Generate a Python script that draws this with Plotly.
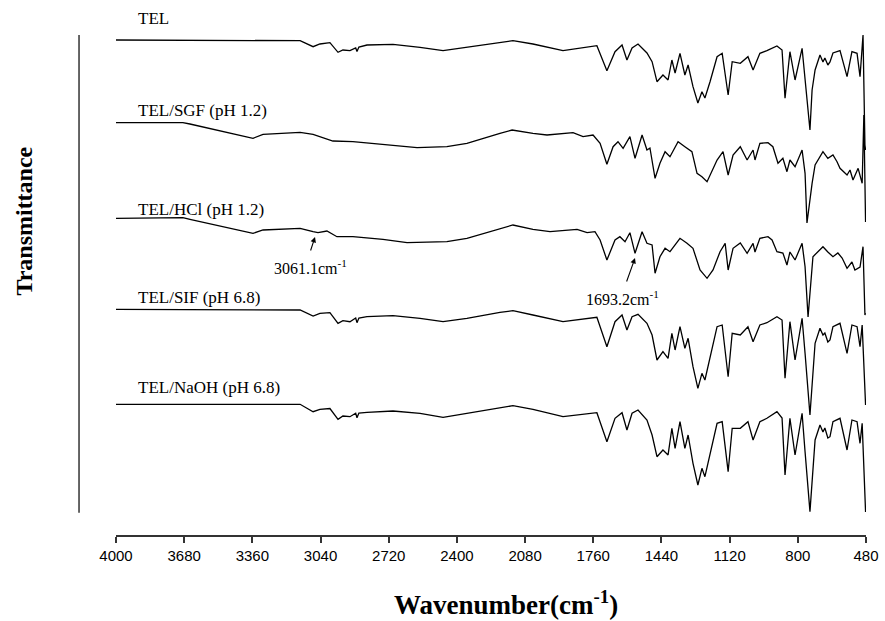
import plotly.graph_objects as go

# Stacked FTIR spectra (transmittance, arbitrary units with vertical offsets)
tel_wn = [4000, 3686, 3136, 3075, 3043, 2996, 2958, 2935, 2902, 2875, 2869, 2860, 2822, 2700, 2573,
          2465, 2353, 2198, 2137, 2043, 1902, 1743, 1696, 1658, 1625, 1602, 1578, 1550, 1508, 1484,
          1461, 1433, 1409, 1391, 1376, 1353, 1330, 1315, 1292, 1269, 1250, 1236, 1212, 1179, 1155,
          1127, 1108, 1070, 1034, 1010, 978, 945, 898, 874, 860, 837, 813, 780, 766, 743, 733, 719,
          696, 682, 673, 659, 649, 635, 602, 569, 546, 522, 508, 494, 485, 482]
tel_t = [495, 495, 494.3, 488.3, 491, 492.3, 482.7, 485, 484.3, 487, 483.5, 488, 490, 490.7, 487.7,
         484.3, 487.7, 491.7, 494.3, 491, 484.3, 489.3, 464.3, 483.3, 490, 475, 487, 491, 482, 473.3,
         453.3, 460, 455, 475, 462, 481.7, 460, 470, 448.3, 432, 443.3, 437, 453.3, 478.3, 481.7,
         440, 473.3, 471.7, 478.3, 465, 481.7, 484.3, 489, 485, 436.7, 483.3, 455, 486.7, 458.3, 405, 445, 465,
         480, 473, 477, 470, 473, 482, 484.3, 458.3, 483.3, 481.7, 458.3, 500, 390, 385]

sgf_wn = [4000, 3686, 3653, 3357, 3310, 3136, 3075, 2982, 2888, 2747, 2667, 2587, 2447, 2353, 2198,
          2141, 2043, 1977, 1855, 1808, 1761, 1728, 1696, 1667, 1644, 1620, 1588, 1564, 1531, 1508,
          1494, 1470, 1447, 1423, 1400, 1362, 1330, 1297, 1273, 1250, 1226, 1203, 1179, 1151, 1127,
          1104, 1070, 1038, 1010, 1001, 978, 940, 917, 893, 870, 851, 837, 813, 780, 766, 757, 733,
          719, 682, 659, 635, 616, 602, 569, 555, 541, 517, 498, 490, 485, 482]
sgf_t = [412.3, 412.3, 411, 396.7, 400.7, 402.7, 400.7, 394, 393.3, 390.7, 389, 387.3, 388.3, 391.7, 401.7,
         405, 401.7, 400, 402.3, 398.3, 400, 391.7, 370.7, 388.3, 393.3, 386.7, 398.3, 376.7, 400, 385,
         387, 356.7, 371.7, 383.3, 378.3, 393.3, 388.3, 383.3, 361.7, 358.3, 353.3, 363.3, 375, 383.3, 360,
         380, 388.3, 375, 385, 375, 391.7, 392.3, 388.3, 371.7, 376.7, 363.3, 375, 368.3, 385, 361.7, 312, 351.7,
         370, 383.3, 376.7, 380, 373.3, 366.7, 360, 365, 355, 366.7, 351.7, 420, 313, 313]

hcl_wn = [4000, 3686, 3653, 3357, 3310, 3136, 3075, 3052, 3010, 2963, 2888, 2747, 2634, 2447, 2353,
          2198, 2137, 2043, 1963, 1836, 1789, 1752, 1728, 1696, 1658, 1635, 1611, 1588, 1564, 1531,
          1508, 1484, 1470, 1447, 1423, 1400, 1353, 1320, 1292, 1259, 1226, 1198, 1165, 1141, 1127,
          1104, 1070, 1038, 1010, 1001, 978, 940, 921, 898, 870, 851, 837, 813, 780, 766, 752, 729,
          682, 659, 635, 612, 592, 569, 546, 532, 508, 494, 485, 482]
hcl_t = [316.7, 317.3, 315.7, 301.7, 305, 306.7, 303.3, 302.3, 304, 298.3, 298.3, 295.7, 292.3, 293.3, 296.7,
         306.7, 310, 305.7, 303.3, 305.7, 302.3, 303.3, 295, 275, 295, 298.3, 293.3, 302.3, 281.7, 303.3,
         291.7, 290, 261.7, 278.3, 286.7, 283.3, 296.7, 291.7, 286.7, 265, 256.7, 265, 283.3, 291.7, 265,
         286.7, 292, 281.7, 291.7, 283, 296.7, 298.3, 295, 283.3, 282, 270, 283, 275, 291.7, 268.3, 218, 278.3,
         288.3, 283, 278.3, 282, 277, 266.7, 273, 265, 268, 288.3, 220, 222]

sif_wn = [4000, 3686, 3136, 3075, 3043, 2996, 2958, 2935, 2902, 2875, 2869, 2860, 2822, 2700, 2573,
          2465, 2353, 2198, 2137, 2043, 1902, 1743, 1696, 1658, 1625, 1602, 1578, 1550, 1508, 1484,
          1461, 1433, 1409, 1391, 1376, 1353, 1330, 1315, 1292, 1269, 1250, 1236, 1212, 1179, 1155,
          1127, 1108, 1070, 1034, 1010, 978, 945, 898, 874, 860, 837, 813, 780, 766, 743, 719,
          696, 682, 673, 659, 649, 635, 602, 569, 546, 522, 508, 498, 485, 482]
sif_t = [225.7, 225.5, 225, 219, 221.7, 222.3, 211.7, 214.3, 213.3, 217, 212.3, 217, 218.3, 219.3, 216.7,
         213.3, 216.7, 222.7, 224.3, 220, 213.3, 217.7, 188.3, 213.3, 220, 205, 218.3, 220.7, 211.7, 200,
         175, 183.3, 176.7, 201.7, 185, 208.3, 186.7, 196.7, 168.3, 146.7, 161.7, 155, 176.7, 208.3, 210,
         158.3, 201.7, 200, 208.3, 193.3, 210, 212.3, 218.3, 215, 156.7, 213.3, 175, 216.7, 181.7, 120, 191.7,
         206.7, 200, 202, 193, 195, 208.3, 211.7, 181.7, 210, 208.3, 188.3, 210, 132, 130]

naoh_wn = [4000, 3686, 3136, 3075, 3043, 2996, 2958, 2935, 2902, 2875, 2869, 2860, 2822, 2700, 2573,
           2465, 2353, 2198, 2137, 2043, 1902, 1743, 1696, 1658, 1625, 1602, 1578, 1550, 1508, 1484,
           1461, 1433, 1409, 1391, 1376, 1353, 1330, 1315, 1292, 1269, 1250, 1236, 1212, 1179, 1155,
           1127, 1108, 1070, 1034, 1010, 978, 945, 898, 874, 860, 837, 813, 780, 766, 743, 719,
           696, 682, 673, 659, 649, 635, 602, 569, 546, 522, 508, 498, 485, 482]
naoh_t = [130.7, 130.5, 130.7, 123.3, 125.7, 126.5, 115.7, 119, 118.3, 121.7, 117.3, 122, 122.7, 124, 121.7,
          117.7, 121.7, 126.7, 129.3, 125.7, 118.3, 122.3, 93.3, 116.7, 122.3, 105, 121.7, 125, 115, 100,
          78.3, 85, 80, 106.7, 86.7, 113.3, 86.7, 100, 71.7, 50, 66.7, 58.3, 81.7, 111.7, 113.3,
          63.3, 106.7, 106.7, 113.3, 95, 113.3, 116.7, 123.3, 117, 60, 116.7, 80, 121.7, 83.3, 23.3, 95,
          110, 103, 107, 97, 98.3, 113.3, 116.7, 85, 115, 113.3, 91.7, 111.7, 23.3, 23]

# label text and vertical position of each label (paper fraction)
series = [
    ("TEL", tel_wn, tel_t, 1.003),
    ("TEL/SGF (pH 1.2)", sgf_wn, sgf_t, 0.825),
    ("TEL/HCl (pH 1.2)", hcl_wn, hcl_t, 0.632),
    ("TEL/SIF (pH 6.8)", sif_wn, sif_t, 0.461),
    ("TEL/NaOH (pH 6.8)", naoh_wn, naoh_t, 0.287),
]

tick_vals = [4000, 3680, 3360, 3040, 2720, 2400, 2080, 1760, 1440, 1120, 800, 480]

SERIF = "Palatino Linotype, Book Antiqua, Liberation Serif, serif"
SANS_NARROW = "Liberation Sans Narrow, Arial Narrow, Liberation Sans, sans-serif"

fig = go.Figure()
annotations = []
for name, wn, t, label_y in series:
    fig.add_trace(go.Scatter(x=wn, y=t, mode="lines", name=name,
                             line=dict(color="black", width=1.3), showlegend=False))
    annotations.append(dict(x=0.026, xref="paper", y=label_y, yref="paper", text=name,
                            showarrow=False, xanchor="left", yanchor="middle",
                            font=dict(family=SERIF, size=17, color="black")))

# peak call-outs on the HCl spectrum
annotations += [
    dict(x=3066, y=298, ax=3089, ay=283, axref="x", ayref="y", xref="x", yref="y",
         text="", showarrow=True, arrowhead=2, arrowsize=1, arrowwidth=1.1, arrowcolor="black"),
    dict(x=3089, y=268, xref="x", yref="y", text="3061.1cm<sup>-1</sup>", showarrow=False,
         font=dict(family=SERIF, size=16, color="black")),
    dict(x=1564, y=277, ax=1606, ay=252, axref="x", ayref="y", xref="x", yref="y",
         text="", showarrow=True, arrowhead=2, arrowsize=1, arrowwidth=1.1, arrowcolor="black"),
    dict(x=1625, y=237, xref="x", yref="y", text="1693.2cm<sup>-1</sup>", showarrow=False,
         font=dict(family=SERIF, size=16, color="black")),
    dict(x=0.52, xref="paper", y=-0.133, yref="paper", text="<b>Wavenumber(cm<sup>-1</sup>)</b>",
         showarrow=False, xanchor="center", yanchor="middle",
         font=dict(family=SERIF, size=27, color="black")),
    dict(x=-0.123, xref="paper", y=0.61, yref="paper", text="<b>Transmittance</b>", textangle=-90,
         showarrow=False, xanchor="center", yanchor="middle",
         font=dict(family=SERIF, size=24, color="black")),
]

fig.update_layout(
    width=885, height=621,
    margin=dict(l=116, r=19, t=20, b=86, autoexpand=False),
    paper_bgcolor="white", plot_bgcolor="white",
    annotations=annotations,
    shapes=[dict(type="line", xref="paper", yref="paper", x0=-0.0493, x1=-0.0493,
                 y0=0.043, y1=0.971, line=dict(color="#333333", width=1.5))],
)
fig.update_xaxes(range=[4000, 480], tickvals=tick_vals, ticktext=[str(v) for v in tick_vals],
                 automargin=False,
                 showline=True, linecolor="#333333", linewidth=2, ticks="outside", ticklen=6,
                 tickwidth=1.5, tickcolor="#333333", showgrid=False, zeroline=False,
                 tickfont=dict(family=SANS_NARROW, size=15, color="black"))
fig.update_yaxes(range=[0, 515], visible=False, showgrid=False, zeroline=False, automargin=False)

fig.write_html("out.html")
